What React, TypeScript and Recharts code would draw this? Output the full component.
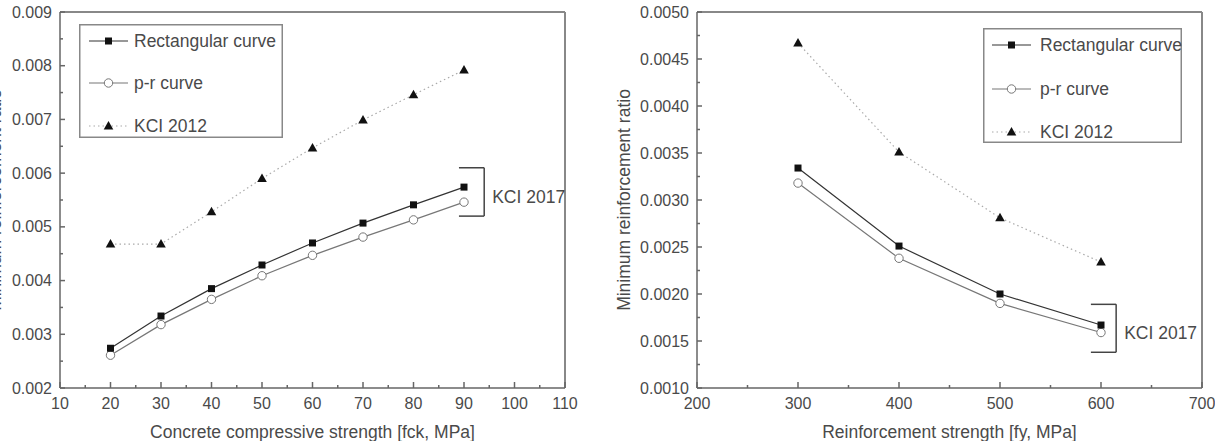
import { Legend, Line, LineChart, ReferenceLine, XAxis, YAxis } from 'recharts'

// left chart: concrete strength
const fck = [20, 30, 40, 50, 60, 70, 80, 90]
const rectFck = [0.00274, 0.00334, 0.00385, 0.00429, 0.0047, 0.00507, 0.00541, 0.00574]
const prFck = [0.00261, 0.00318, 0.00365, 0.00409, 0.00447, 0.00481, 0.00513, 0.00546]
const kci2012Fck = [0.00468, 0.00468, 0.00528, 0.0059, 0.00647, 0.00699, 0.00746, 0.00792]

// right chart: reinforcement strength
const fy = [300, 400, 500, 600]
const rectFy = [0.00334, 0.00251, 0.002, 0.00167]
const prFy = [0.00318, 0.00238, 0.0019, 0.00159]
const kci2012Fy = [0.00467, 0.00351, 0.00281, 0.00234]

const fckTicks = [10, 15, 20, 25, 30, 35, 40, 45, 50, 55, 60, 65, 70, 75, 80, 85, 90, 95, 100, 105, 110]
const fyTicks = [200, 250, 300, 350, 400, 450, 500, 550, 600, 650, 700]
const leftYTicks = [0.002, 0.0025, 0.003, 0.0035, 0.004, 0.0045, 0.005, 0.0055, 0.006, 0.0065, 0.007, 0.0075, 0.008, 0.0085, 0.009]
const rightYTicks = [0.001, 0.00125, 0.0015, 0.00175, 0.002, 0.00225, 0.0025, 0.00275, 0.003, 0.00325, 0.0035, 0.00375, 0.004, 0.00425, 0.0045, 0.00475, 0.005]

// KCI 2017 bracket (data coords)
const bracketFck = { x1: 89, x2: 94, yTop: 0.0061, yBottom: 0.0052 }
const bracketFy = { x1: 590, x2: 615, yTop: 0.00189, yBottom: 0.00138 }

const seriesNames = ['Rectangular curve', 'p-r curve', 'KCI 2012']

const FONT = '"Liberation Sans", Arial, sans-serif'
const AXIS = '#666'
const TEXT = '#4a4a4a'

const dataFck = fck.map((x, i) => ({ x, rect: rectFck[i], pr: prFck[i], kci: kci2012Fck[i] }))
const dataFy = fy.map((x, i) => ({ x, rect: rectFy[i], pr: prFy[i], kci: kci2012Fy[i] }))

const squareDot = (p: any) => <rect key={`s${p.index}`} x={p.cx - 3.5} y={p.cy - 3.5} width={7} height={7} fill="#111" />
const circleDot = (p: any) => <circle key={`c${p.index}`} cx={p.cx} cy={p.cy} r={4.2} fill="#fff" stroke="#777" strokeWidth={1} />
const triDot = (p: any) => (
  <polygon key={`t${p.index}`} points={`${p.cx},${p.cy - 5} ${p.cx + 4.8},${p.cy + 3.5} ${p.cx - 4.8},${p.cy + 3.5}`} fill="#111" />
)

function xTick(isMajor: (v: number) => boolean) {
  return (p: any) => {
    const v = p.payload.value
    const major = isMajor(v)
    return (
      <g key={`xt${p.index}`}>
        <line x1={p.x} x2={p.x} y1={p.y} y2={p.y - (major ? 6 : 3)} stroke={AXIS} strokeWidth={1.5} />
        {major && (
          <text x={p.x} y={p.y + 21} textAnchor="middle" fontSize={16} fill={TEXT} fontFamily={FONT}>
            {v}
          </text>
        )}
      </g>
    )
  }
}

function yTick(isMajor: (v: number) => boolean, digits: number) {
  return (p: any) => {
    const v = p.payload.value
    const major = isMajor(v)
    return (
      <g key={`yt${p.index}`}>
        <line x1={p.x} x2={p.x + (major ? 5 : 3)} y1={p.y} y2={p.y} stroke={AXIS} strokeWidth={1.5} />
        {major && (
          <text x={p.x - 8} y={p.y + 5.5} textAnchor="end" fontSize={16} fill={TEXT} fontFamily={FONT}>
            {v.toFixed(digits)}
          </text>
        )}
      </g>
    )
  }
}

function legendBox(width: number, height: number, rows: number[], lineX: [number, number], textX: number) {
  return () => (
    <svg width={width} height={height} style={{ display: 'block' }}>
      <rect x={0.75} y={0.75} width={width - 1.5} height={height - 1.5} fill="#fff" stroke="#888" strokeWidth={1.5} />
      {seriesNames.map((name, i) => {
        const y = rows[i]
        const mx = (lineX[0] + lineX[1]) / 2
        return (
          <g key={name}>
            <line
              x1={lineX[0]} x2={lineX[1]} y1={y} y2={y}
              stroke={i === 0 ? '#333' : i === 1 ? '#777' : '#aaa'}
              strokeWidth={1.2}
              strokeDasharray={i === 2 ? '1.5 3' : undefined}
            />
            {i === 0 && squareDot({ cx: mx, cy: y, index: 0 })}
            {i === 1 && circleDot({ cx: mx, cy: y, index: 0 })}
            {i === 2 && triDot({ cx: mx, cy: y, index: 0 })}
            <text x={textX} y={y + 6} fontSize={17.5} fill={TEXT} fontFamily={FONT}>{name}</text>
          </g>
        )
      })}
    </svg>
  )
}

function bracketLabel(props: any) {
  const vb = props.viewBox
  return (
    <text x={vb.x + vb.width + 8} y={vb.y + vb.height / 2 + 11} fontSize={17.5} fill={TEXT} fontFamily={FONT}>
      KCI 2017
    </text>
  )
}

function series() {
  return [
    <Line key="kci" dataKey="kci" name={seriesNames[2]} type="linear" stroke="#aaa" strokeWidth={1.2} strokeDasharray="1.5 3" dot={triDot} isAnimationActive={false} />,
    <Line key="pr" dataKey="pr" name={seriesNames[1]} type="linear" stroke="#777" strokeWidth={1.2} dot={circleDot} isAnimationActive={false} />,
    <Line key="rect" dataKey="rect" name={seriesNames[0]} type="linear" stroke="#333" strokeWidth={1.2} dot={squareDot} isAnimationActive={false} />,
  ]
}

function bracketLines(b: typeof bracketFck) {
  return [
    <ReferenceLine key="bt" segment={[{ x: b.x1, y: b.yTop }, { x: b.x2, y: b.yTop }]} stroke="#444" strokeWidth={1.5} ifOverflow="visible" />,
    <ReferenceLine key="bv" segment={[{ x: b.x2, y: b.yTop }, { x: b.x2, y: b.yBottom }]} stroke="#444" strokeWidth={1.5} ifOverflow="visible" label={bracketLabel} />,
    <ReferenceLine key="bb" segment={[{ x: b.x1, y: b.yBottom }, { x: b.x2, y: b.yBottom }]} stroke="#444" strokeWidth={1.5} ifOverflow="visible" />,
  ]
}

export default function App() {
  return (
    <div style={{ position: 'absolute', left: 0, top: 0, width: 1215, height: 441, background: '#fff', fontFamily: FONT }}>
      <div style={{ position: 'absolute', left: 0, top: 0 }}>
        <LineChart width={600} height={441} data={dataFck} margin={{ top: 12, right: 35, bottom: 0, left: 0 }}>
          <XAxis
            dataKey="x" type="number" domain={[10, 110]} ticks={fckTicks} interval={0}
            tickSize={0} tickMargin={0} tickLine={false} tick={xTick(v => v % 10 === 0)}
            axisLine={{ stroke: AXIS, strokeWidth: 1.5 }} height={53}
            label={{ value: 'Concrete compressive strength [fck, MPa]', position: 'insideBottom', offset: 3, fontSize: 17.5, fill: TEXT, fontFamily: FONT }}
          />
          <YAxis
            type="number" domain={[0.002, 0.009]} ticks={leftYTicks} interval={0} width={60}
            tickSize={0} tickMargin={0} tickLine={false} tick={yTick(v => Math.round(v * 2000) % 2 === 0, 3)}
            axisLine={{ stroke: AXIS, strokeWidth: 1.5 }}
            label={{ value: 'Minimum reinforcement ratio', angle: -90, position: 'insideLeft', offset: -5, fontSize: 17.5, fill: TEXT, fontFamily: FONT, style: { textAnchor: 'middle' } }}
          />
          <ReferenceLine y={0.009} stroke="#888" strokeWidth={2} />
          <ReferenceLine x={110} stroke="#888" strokeWidth={2} />
          {series()}
          {bracketLines(bracketFck)}
          <Legend
            layout="horizontal" align="center" verticalAlign="middle"
            content={legendBox(204, 114, [17, 59, 102], [10, 49], 55)}
            wrapperStyle={{ left: 79, top: 24, width: 204, height: 114 }}
          />
        </LineChart>
      </div>
      <div style={{ position: 'absolute', left: 600, top: 0 }}>
        <LineChart width={615} height={441} data={dataFy} margin={{ top: 12, right: 13, bottom: 0, left: 0 }}>
          <XAxis
            dataKey="x" type="number" domain={[200, 700]} ticks={fyTicks} interval={0}
            tickSize={0} tickMargin={0} tickLine={false} tick={xTick(v => v % 100 === 0)}
            axisLine={{ stroke: AXIS, strokeWidth: 1.5 }} height={53}
            label={{ value: 'Reinforcement strength [fy, MPa]', position: 'insideBottom', offset: 3, fontSize: 17.5, fill: TEXT, fontFamily: FONT }}
          />
          <YAxis
            type="number" domain={[0.001, 0.005]} ticks={rightYTicks} interval={0} width={97}
            tickSize={0} tickMargin={0} tickLine={false} tick={yTick(v => Math.round(v * 4000) % 2 === 0, 4)}
            axisLine={{ stroke: AXIS, strokeWidth: 1.5 }}
            label={{ value: 'Minimum reinforcement ratio', angle: -90, position: 'insideLeft', offset: 24, fontSize: 17.5, fill: TEXT, fontFamily: FONT, style: { textAnchor: 'middle' } }}
          />
          <ReferenceLine y={0.005} stroke="#888" strokeWidth={2} />
          <ReferenceLine x={700} stroke="#888" strokeWidth={2} />
          {series()}
          {bracketLines(bracketFy)}
          <Legend
            layout="horizontal" align="center" verticalAlign="middle"
            content={legendBox(199, 115, [17, 61, 104], [9, 48], 57)}
            wrapperStyle={{ left: 383, top: 28, width: 199, height: 115 }}
          />
        </LineChart>
      </div>
    </div>
  )
}
